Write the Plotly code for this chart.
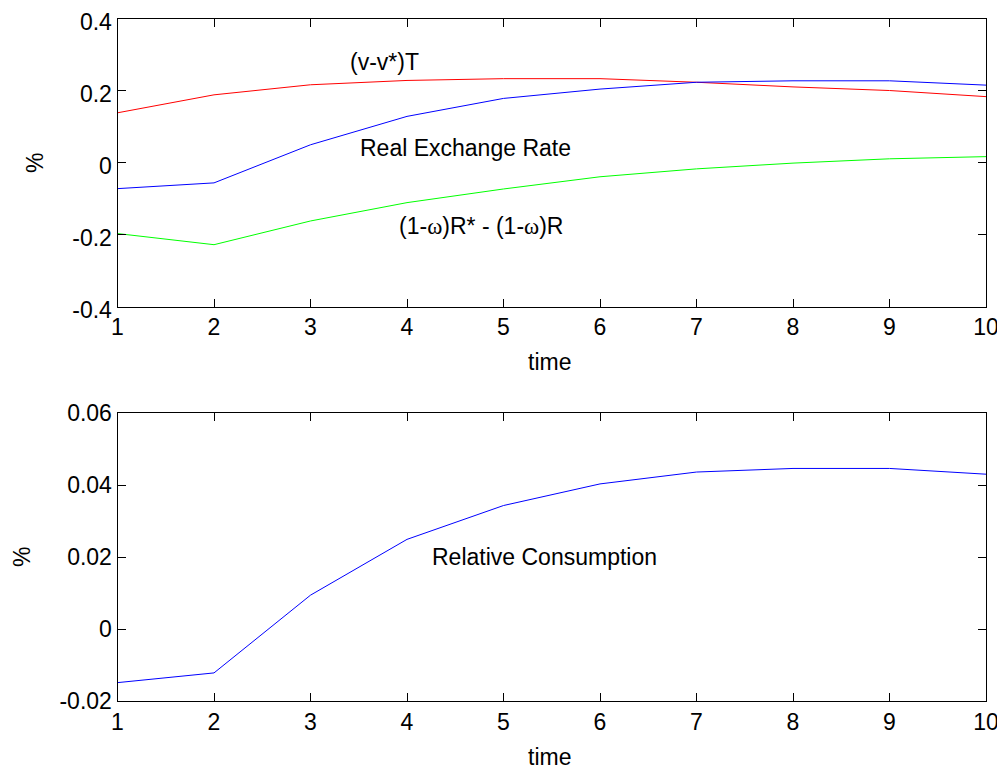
import plotly.graph_objects as go
from plotly.subplots import make_subplots

time = [1, 2, 3, 4, 5, 6, 7, 8, 9, 10]
terms_of_trade = [0.139, 0.189, 0.217, 0.229, 0.234, 0.234, 0.224, 0.211, 0.201, 0.184]
real_exchange_rate = [-0.072, -0.056, 0.050, 0.129, 0.179, 0.205, 0.224, 0.228, 0.228, 0.216]
interest_diff = [-0.197, -0.228, -0.162, -0.111, -0.073, -0.039, -0.017, -0.001, 0.011, 0.017]
relative_consumption = [-0.0149, -0.0122, 0.0094, 0.0249, 0.0343, 0.0403, 0.0436, 0.0446, 0.0446, 0.0430]

top_ticks = [-0.4, -0.2, 0, 0.2, 0.4]
top_ticktext = ["-0.4", "-0.2", "0", "0.2", "0.4"]
bot_ticks = [-0.02, 0, 0.02, 0.04, 0.06]
bot_ticktext = ["-0.02", "0", "0.02", "0.04", "0.06"]

FONT = "Liberation Sans, Arial, sans-serif"
OFF = 8  # default page body margin
W, H = 1005 - OFF, 783 - OFF


def px(x):
    return (x - OFF) / W


def py(y):
    return 1 - (y - OFF) / H


fig = make_subplots(rows=2, cols=1)
fig.add_trace(go.Scatter(x=time, y=terms_of_trade, mode="lines",
                         line=dict(color="#ff0000", width=1)), row=1, col=1)
fig.add_trace(go.Scatter(x=time, y=real_exchange_rate, mode="lines",
                         line=dict(color="#0000ff", width=1)), row=1, col=1)
fig.add_trace(go.Scatter(x=time, y=interest_diff, mode="lines",
                         line=dict(color="#00ff00", width=1)), row=1, col=1)
fig.add_trace(go.Scatter(x=time, y=relative_consumption, mode="lines",
                         line=dict(color="#0000ff", width=1)), row=2, col=1)

xdom = [px(117.5), px(986)]
top_dom = [py(306.5), py(19)]
bot_dom = [py(701), py(413)]

axis_common = dict(showline=True, linecolor="#000000", linewidth=1, mirror="ticks",
                   ticks="inside", ticklen=8, tickcolor="#000000", tickwidth=1,
                   showgrid=False, zeroline=False, automargin=False,
                   ticklabeloverflow="allow",
                   tickfont=dict(family=FONT, size=23, color="#000000"))

fig.update_xaxes(**axis_common, range=[1, 10], tickvals=time,
                 ticktext=[str(t) for t in time], domain=xdom)
fig.update_yaxes(**axis_common)
fig.update_yaxes(range=[-0.4, 0.4], tickvals=top_ticks, ticktext=top_ticktext,
                 domain=top_dom, ticklabelshift=3, row=1, col=1)
fig.update_yaxes(range=[-0.02, 0.06], tickvals=bot_ticks, ticktext=bot_ticktext,
                 domain=bot_dom, row=2, col=1)

omega = '<span style="font-family:Liberation Serif">ω</span>'
tfont = dict(family=FONT, size=23, color="#000000")
ann = [
    dict(text="(v-v*)T", x=3.39, y=0.28, xref="x", yref="y", xanchor="left", yanchor="middle"),
    dict(text="Real Exchange Rate", x=3.49, y=0.042, xref="x", yref="y", xanchor="left", yanchor="middle"),
    dict(text=f"(1-{omega})R* - (1-{omega})R", x=3.9, y=-0.175, xref="x", yref="y", xanchor="left", yanchor="middle"),
    dict(text="Relative Consumption", x=4.24, y=0.0199, xref="x2", yref="y2", xanchor="left", yanchor="middle"),
    dict(text="time", x=px(549), y=py(362), xref="paper", yref="paper", xanchor="center", yanchor="middle"),
    dict(text="time", x=px(549), y=py(757), xref="paper", yref="paper", xanchor="center", yanchor="middle"),
    dict(text="%", x=px(35), y=py(163), xref="paper", yref="paper", xanchor="center", yanchor="middle", textangle=-90),
    dict(text="%", x=px(22), y=py(557), xref="paper", yref="paper", xanchor="center", yanchor="middle", textangle=-90),
]
for a in ann:
    fig.add_annotation(**a, showarrow=False, font=tfont)

fig.update_layout(width=W, height=H, margin=dict(l=0, r=0, t=0, b=0, autoexpand=False),
                  paper_bgcolor="white", plot_bgcolor="white", showlegend=False)

fig.write_html("out.html")
